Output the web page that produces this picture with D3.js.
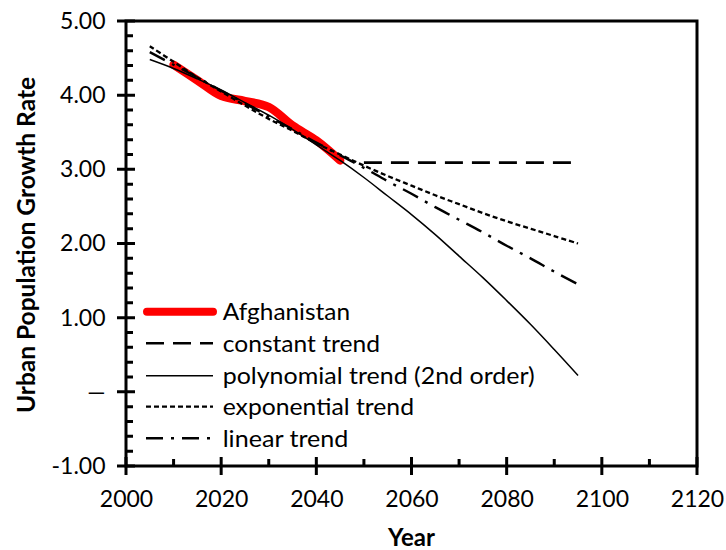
<!DOCTYPE html>
<html>
<head>
<meta charset="utf-8">
<script src="https://cdn.jsdelivr.net/npm/d3@7"></script>
<style>
  html, body { margin: 0; padding: 0; background: #fff; }
  svg { display: block; font-family: Lato, "Open Sans", sans-serif; }
</style>
</head>
<body>
<svg id="chart" width="726" height="550"></svg>
<script>
// ---- data ----
const dataYears   = [2010, 2015, 2020, 2025, 2030, 2035, 2040, 2045];
const afghanistan = [4.41, 4.20, 3.99, 3.92, 3.84, 3.59, 3.39, 3.12];

const trendYears  = [2005, 2010, 2015, 2020, 2025, 2030, 2035, 2040, 2045, 2050,
                     2055, 2060, 2065, 2070, 2075, 2080, 2085, 2090, 2095];
const polyTrend   = [4.48, 4.36, 4.22, 4.07, 3.90, 3.73, 3.54, 3.33, 3.12, 2.89,
                     2.64, 2.39, 2.12, 1.83, 1.54, 1.23, 0.91, 0.57, 0.22];
const expTrend    = [4.66, 4.45, 4.24, 4.05, 3.86, 3.68, 3.52, 3.35, 3.20, 3.05,
                     2.91, 2.78, 2.65, 2.53, 2.41, 2.30, 2.20, 2.10, 2.00];
const linTrend    = [4.58, 4.41, 4.24, 4.06, 3.89, 3.71, 3.54, 3.36, 3.19, 3.02,
                     2.84, 2.67, 2.49, 2.32, 2.15, 1.97, 1.80, 1.62, 1.45];
const constYears  = [2050, 2095];
const constTrend  = [3.09, 3.09];

const xTicks      = [2000, 2020, 2040, 2060, 2080, 2100, 2120];
const xMinorTicks = [2010, 2030, 2050, 2070, 2090, 2110];
const yTicks      = [-1, 0, 1, 2, 3, 4, 5];
const yMinorTicks = [-0.8, -0.6, -0.4, -0.2, 0.2, 0.4, 0.6, 0.8, 1.2, 1.4, 1.6, 1.8,
                     2.2, 2.4, 2.6, 2.8, 3.2, 3.4, 3.6, 3.8, 4.2, 4.4, 4.6, 4.8];

const legendLabels = ["Afghanistan", "constant trend", "polynomial trend (2nd order)", "exponential trend", "linear trend"];

// ---- layout ----
const svg = d3.select("#chart");
const L = 126, R = 697, T = 21, B = 466;
const x = d3.scaleLinear().domain([2000, 2120]).range([L, R]);
const y = d3.scaleLinear().domain([-1, 5]).range([B, T]);

const yFmt = d => d === 0 ? "\u2014" : (d < 0 ? "-" : "") + Math.abs(d).toFixed(2);

// ---- frame: axis lines and tick marks ----
const frame = svg.append("g").attr("fill", "none").attr("stroke", "#000").attr("stroke-width", 3);
frame.append("path").attr("d", `M${L},${T}H${R}V${B}H${L}Z`);

const tickPath = (vals, fn) => vals.map(fn).join("");
frame.append("path").attr("d", tickPath(yTicks, d => `M${L - 9},${y(d)}H${L + 9}`));
frame.append("path").attr("d", tickPath(yMinorTicks, d => `M${L},${y(d)}H${L + 7}`));
frame.append("path").attr("d", tickPath(xTicks, d => `M${x(d)},${B - 9}V${B + 9}`));
frame.append("path").attr("d", tickPath(xMinorTicks, d => `M${x(d)},${B - 7}V${B}`));

// ---- lines ----
const line = d3.line().x(d => x(d[0])).y(d => y(d[1])).curve(d3.curveCatmullRom);
const zip = (a, b) => a.map((v, i) => [v, b[i]]);

const series = [
  { name: legendLabels[0], pts: zip(dataYears, afghanistan), color: "#ff0000", w: 8.5, dash: null, cap: "round" },
  { name: legendLabels[1], pts: zip(constYears, constTrend), color: "#000", w: 2.6, dash: "18,9", cap: "butt" },
  { name: legendLabels[2], pts: zip(trendYears, polyTrend), color: "#000", w: 1.5, dash: null, cap: "butt" },
  { name: legendLabels[3], pts: zip(trendYears, expTrend), color: "#000", w: 2.3, dash: "5,3", cap: "butt" },
  { name: legendLabels[4], pts: zip(trendYears, linTrend), color: "#000", w: 2.4, dash: "17,8,3,8", cap: "butt" }
];

const gLines = svg.append("g");
series.forEach(s => {
  gLines.append("path")
    .attr("d", line(s.pts))
    .attr("fill", "none")
    .attr("stroke", s.color)
    .attr("stroke-width", s.w)
    .attr("stroke-linecap", s.cap)
    .attr("stroke-linejoin", "round")
    .attr("stroke-dasharray", s.dash);
});

// ---- tick labels ----
svg.append("g").attr("transform", `translate(${L},0)`)
  .call(d3.axisLeft(y).tickValues(yTicks).tickSize(9).tickPadding(11.5).tickFormat(yFmt))
  .call(g => { g.select(".domain").remove(); g.selectAll(".tick line").remove(); })
  .call(g => g.selectAll("text").attr("fill", "#000").attr("font-size", 23).attr("font-family", "Lato, sans-serif"));

svg.append("g").attr("transform", `translate(0,${B})`)
  .call(d3.axisBottom(x).tickValues(xTicks).tickSize(9).tickPadding(16).tickFormat(d3.format("d")))
  .call(g => { g.select(".domain").remove(); g.selectAll(".tick line").remove(); })
  .call(g => g.selectAll("text").attr("fill", "#000").attr("font-size", 23).attr("font-family", "Lato, sans-serif"));

// ---- axis titles ----
svg.append("text")
  .attr("transform", `translate(25,245) rotate(-90)`)
  .attr("text-anchor", "middle")
  .attr("dominant-baseline", "central")
  .attr("font-weight", "bold")
  .attr("font-size", 24)
  .attr("textLength", 336)
  .attr("lengthAdjust", "spacingAndGlyphs")
  .text("Urban Population Growth Rate");

svg.append("text")
  .attr("x", (L + R) / 2).attr("y", 546)
  .attr("text-anchor", "middle")
  .attr("font-weight", "bold")
  .attr("font-size", 24)
  .text("Year");

// ---- legend ----
const legendY = [311.7, 343.3, 375.7, 406.7, 438.3];
const legendTextLen = [127.3, 157.3, 312, 191.3, 125.7];
const lg = svg.append("g");
series.forEach((s, i) => {
  const yy = legendY[i];
  const isRed = i === 0;
  lg.append("line")
    .attr("x1", isRed ? 147 : 146).attr("x2", 213)
    .attr("y1", yy).attr("y2", yy)
    .attr("stroke", s.color)
    .attr("stroke-width", isRed ? 8 : s.w)
    .attr("stroke-linecap", s.cap)
    .attr("stroke-dasharray", s.dash);
  lg.append("text")
    .attr("x", 222.7).attr("y", yy + 8.5)
    .attr("font-size", 24)
    .attr("fill", "#000")
    .attr("textLength", legendTextLen[i])
    .attr("lengthAdjust", "spacingAndGlyphs")
    .text(s.name);
});
</script>
</body>
</html>
